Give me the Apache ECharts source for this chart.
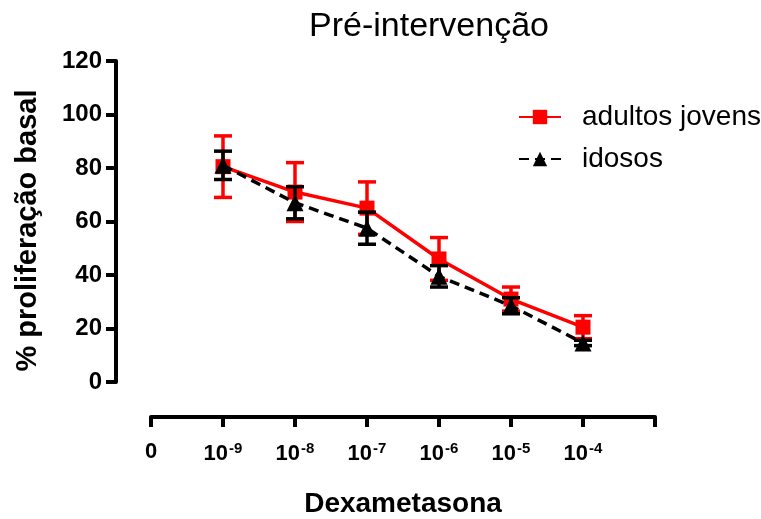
<!DOCTYPE html>
<html><head><meta charset="utf-8">
<script src="https://cdn.jsdelivr.net/npm/echarts@6/dist/echarts.min.js"></script>
<style>html,body{margin:0;padding:0;background:#fff}#c{width:761px;height:519px}</style>
</head><body><div id="c"></div>
<script>
// tick positions on the x axis and their labels (0, 10^-9 ... 10^-4)
var xTickValues = [0, 1, 2, 3, 4, 5, 6];
var xTickBase = ['0', '10', '10', '10', '10', '10', '10'];
var xTickExp = ['', '-9', '-8', '-7', '-6', '-5', '-4'];
var seriesNames = ['adultos jovens', 'idosos'];
// concentration index (1 = 10^-9 ... 6 = 10^-4)
var doseIdx = [1, 2, 3, 4, 5, 6];
var adultMean = [80.5, 71, 65, 46, 31, 20.5];
var adultErr = [11.5, 11, 9.8, 8, 4.5, 4.3];
var elderMean = [81, 67, 57.5, 39.5, 28.5, 14.6];
var elderErr = [5.3, 6, 6, 4, 3, 1];

var chart = echarts.init(document.getElementById('c'), null, {renderer: 'canvas'});
var FONT = 'Liberation Sans, Arial, sans-serif';

function pts(m) { return doseIdx.map(function (d, i) { return [d, m[i]]; }); }
function errs(m, e) { return doseIdx.map(function (d, i) { return [d, m[i] - e[i], m[i] + e[i]]; }); }
function errRender(color) {
  return function (params, api) {
    var x = api.value(0);
    var lo = api.coord([x, api.value(1)]);
    var hi = api.coord([x, api.value(2)]);
    var hw = 9;
    var st = {stroke: color, lineWidth: 3.5};
    return {type: 'group', children: [
      {type: 'line', shape: {x1: lo[0], y1: lo[1], x2: hi[0], y2: hi[1]}, style: st},
      {type: 'line', shape: {x1: lo[0] - hw, y1: lo[1], x2: lo[0] + hw, y2: lo[1]}, style: st},
      {type: 'line', shape: {x1: hi[0] - hw, y1: hi[1], x2: hi[0] + hw, y2: hi[1]}, style: st}
    ]};
  };
}

chart.setOption({
  animation: false,
  backgroundColor: '#fff',
  title: {text: 'Pré-intervenção', left: 304, top: 5,
    textStyle: {fontFamily: FONT, fontSize: 34, fontWeight: 'normal', color: '#000'}},
  legend: {orient: 'vertical', left: 513, top: 97, itemWidth: 42, itemHeight: 18, itemGap: 12,
    data: seriesNames,
    textStyle: {fontFamily: FONT, fontSize: 28, lineHeight: 30, color: '#000', padding: [0, 0, 0, 16]}},
  grid: {left: 151, right: 106, top: 61, bottom: 137, containLabel: false, outerBoundsMode: 'none'},
  xAxis: {type: 'value', min: 0, max: 7, interval: 1, offset: 35,
    name: 'Dexametasona', nameLocation: 'middle', nameGap: 73,
    nameTextStyle: {fontFamily: FONT, fontSize: 28, fontWeight: 'bold', color: '#000'},
    axisLine: {onZero: false, lineStyle: {color: '#000', width: 4}},
    axisTick: {length: 10, lineStyle: {color: '#000', width: 4}},
    splitLine: {show: false},
    axisLabel: {margin: 24, color: '#000', fontFamily: FONT, fontSize: 22, fontWeight: 'bold',
      formatter: function (v) {
        var i = xTickValues.indexOf(v);
        if (i < 0) return '';
        if (!xTickExp[i]) return xTickBase[i];
        return '{base|' + xTickBase[i] + '}{sup|' + xTickExp[i] + '}';
      },
      rich: {
        base: {fontFamily: FONT, fontSize: 22, fontWeight: 'bold', color: '#000', lineHeight: 26},
        sup: {fontFamily: FONT, fontSize: 15, fontWeight: 'bold', color: '#000', verticalAlign: 'top', lineHeight: 16, padding: [0, 0, 0, 1]}
      }}},
  yAxis: {type: 'value', min: 0, max: 120, interval: 20, offset: 35,
    name: '% proliferação basal', nameLocation: 'middle', nameGap: 74, nameRotate: 90,
    nameTextStyle: {fontFamily: FONT, fontSize: 29, fontWeight: 'bold', color: '#000', padding: [0, 18, 0, 0]},
    axisLine: {show: true, onZero: false, lineStyle: {color: '#000', width: 4}},
    axisTick: {show: true, length: 10, lineStyle: {color: '#000', width: 4}},
    splitLine: {show: false},
    axisLabel: {margin: 14, fontFamily: FONT, fontSize: 24, fontWeight: 'bold', color: '#000'}},
  series: [
    {type: 'custom', name: 'errA', renderItem: errRender('#ff0000'), data: errs(adultMean, adultErr), z: 2, silent: true},
    {type: 'line', name: seriesNames[0], data: pts(adultMean), symbol: 'rect', symbolSize: 15,
      itemStyle: {color: '#ff0000'}, lineStyle: {color: '#ff0000', width: 3.5}, z: 3},
    {type: 'custom', name: 'errB', renderItem: errRender('#000000'), data: errs(elderMean, elderErr), z: 4, silent: true},
    {type: 'line', name: seriesNames[1], data: pts(elderMean), symbol: 'triangle', symbolSize: 17,
      itemStyle: {color: '#000'}, lineStyle: {color: '#000', width: 3.5, type: [10, 6]}, z: 5}
  ]
});
</script></body></html>
